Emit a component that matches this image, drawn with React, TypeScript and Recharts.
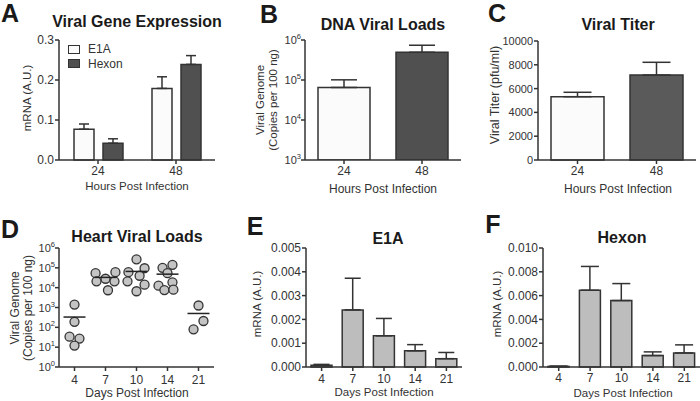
import React from 'react';
import { BarChart, Bar, XAxis, YAxis, ErrorBar, Cell, Legend, ScatterChart, Scatter } from 'recharts';

const FONT = '"Liberation Sans", Arial, Helvetica, sans-serif';
const AX = '#333333';
const WHITE_BAR = '#fbfbfb';
const DARK_BAR = '#505050';
const GREY_BAR = '#bdbdbd';

// ---------- Panel A: Viral Gene Expression ----------
const hoursCategories = ['24', '48'];
const e1aExpression = [0.077, 0.179];
const e1aExpressionSem = [0.013, 0.029];
const hexonExpression = [0.042, 0.239];
const hexonExpressionSem = [0.011, 0.022];
const aTicks = [0, 0.1, 0.2, 0.3];

// ---------- Panel B: DNA Viral Loads ----------
const dnaLoads = [65000, 493000];
const dnaLoadsSem = [36000, 247000];
const bTicks = [1000, 10000, 100000, 1000000];

// ---------- Panel C: Viral Titer ----------
const viralTiter = [5320, 7140];
const viralTiterSem = [370, 1070];
const cTicks = [0, 2000, 4000, 6000, 8000, 10000];

// ---------- Panel D: Heart Viral Loads ----------
const dayCategories = ['4', '7', '10', '14', '21'];
const heartLoads = [
  [1410, 190, 34, 27, 12],
  [53700, 60300, 28200, 20900, 20900, 7400],
  [269000, 95500, 60300, 39800, 20900, 14100, 6600],
  [100000, 141000, 53700, 18600, 12600, 7600, 7900],
  [1260, 209, 79],
];
const heartJitter = [
  [0, 0, -0.16, 0.16, 0],
  [-0.32, 0.32, 0, -0.29, 0.29, 0.08],
  [0, 0.26, -0.26, 0.1, -0.29, 0.26, 0],
  [-0.16, 0.16, 0, 0.16, -0.29, -0.1, 0.19],
  [0, 0.16, -0.16],
];
const heartMeans = [330, 33000, 66000, 48000, 500];
const dTicks = [1, 10, 100, 1000, 10000, 100000, 1000000];

// ---------- Panel E: E1A ----------
const e1aDays = [0.00007, 0.0024, 0.00131, 0.00068, 0.00035];
const e1aDaysSem = [0.00004, 0.00133, 0.00073, 0.00026, 0.00026];
const eTicks = [0, 0.001, 0.002, 0.003, 0.004, 0.005];

// ---------- Panel F: Hexon ----------
const hexonDays = [0.00005, 0.00645, 0.00558, 0.00096, 0.00118];
const hexonDaysSem = [0.00002, 0.002, 0.00143, 0.00031, 0.00068];
const fTicks = [0, 0.002, 0.004, 0.006, 0.008, 0.01];

// ---------- tables built from the arrays ----------
const dataA = hoursCategories.map((h, i) => ({
  hours: h,
  e1a: e1aExpression[i],
  e1aErr: [0, e1aExpressionSem[i]],
  hexon: hexonExpression[i],
  hexonErr: [0, hexonExpressionSem[i]],
}));
const dataB = hoursCategories.map((h, i) => ({ hours: h, v: dnaLoads[i], err: [0, dnaLoadsSem[i]] }));
const dataC = hoursCategories.map((h, i) => ({ hours: h, v: viralTiter[i], err: [0, viralTiterSem[i]] }));
const dataD = heartLoads.flatMap((vals, i) =>
  vals.map((v, j) => ({ x: i + 0.5 + heartJitter[i][j], y: v }))
);
const dataDMeans = heartMeans.map((m, i) => ({ x: i + 0.5, y: m }));
const dataE = dayCategories.map((d, i) => ({ day: d, v: e1aDays[i], err: [0, e1aDaysSem[i]] }));
const dataF = dayCategories.map((d, i) => ({ day: d, v: hexonDays[i], err: [0, hexonDaysSem[i]] }));

// layout helper: chart box + desired plot rectangle
function frame(left: number, top: number, w: number, h: number, x0: number, x1: number, y0: number, y1: number, xh = 26) {
  return {
    style: { position: 'absolute' as const, left, top },
    width: w,
    height: h,
    margin: { top: y0 - top, right: left + w - x1, bottom: top + h - y1 - xh, left: 0 },
    yWidth: x0 - left,
    xHeight: xh,
  };
}

const axisLine = { stroke: AX, strokeWidth: 1.5 };
const tickLine = { stroke: AX, strokeWidth: 1.5 };

function Txt({ x, y, size, bold, rotate, children }: any) {
  return (
    <div
      style={{
        position: 'absolute',
        left: x,
        top: y,
        transform: `translate(-50%, -50%)${rotate ? ` rotate(${rotate}deg)` : ''}`,
        fontSize: size,
        fontWeight: bold ? 700 : 400,
        lineHeight: 1,
        whiteSpace: 'nowrap',
        color: bold ? '#1a1a1a' : '#333',
        fontFamily: FONT,
        textAlign: 'center',
      }}
    >
      {children}
    </div>
  );
}

function PowTick(props: any) {
  const { x, y, payload } = props;
  const exp = Math.round(Math.log10(payload.value));
  return (
    <text x={x} y={y} dy={4} textAnchor="end" fill="#333" fontSize={11}>
      10
      <tspan fontSize={7.5} dy={-5}>
        {exp}
      </tspan>
    </text>
  );
}

function LegendA(props: any) {
  const payload = props.payload || [];
  return (
    <div style={{ fontFamily: FONT, fontSize: 12, color: '#333' }}>
      {payload.map((p: any) => (
        <div key={p.value} style={{ display: 'flex', alignItems: 'center', height: 14.5 }}>
          <div
            style={{
              width: 10,
              height: 7,
              border: `1.5px solid ${AX}`,
              background: p.color,
              marginRight: 8,
            }}
          />
          <span>{p.value}</span>
        </div>
      ))}
    </div>
  );
}

const Dot = (props: any) => {
  const { cx, cy } = props;
  return <circle cx={cx} cy={cy} r={4.5} fill="#c4c4c4" stroke={AX} strokeWidth={1.3} />;
};
const MeanLine = (props: any) => {
  const { cx, cy } = props;
  return <line x1={cx - 11} x2={cx + 11} y1={cy} y2={cy} stroke="#222" strokeWidth={1.5} />;
};

export default function App() {
  const fA = frame(0, 0, 230, 200, 59, 215, 40, 160);
  const fB = frame(230, 0, 240, 200, 305, 461, 40, 160);
  const fC = frame(470, 0, 230, 200, 538, 696, 41, 160);
  const fD = frame(0, 200, 240, 201, 59, 214, 248, 367);
  const fE = frame(240, 200, 230, 201, 306, 462, 248, 367);
  const fF = frame(470, 200, 230, 201, 543, 700, 248, 367);
  const tick12 = { fontSize: 12, fill: '#333' };

  return (
    <div
      style={{
        position: 'absolute',
        left: 0,
        top: 0,
        width: 700,
        height: 401,
        background: '#fff',
        fontFamily: FONT,
        overflow: 'hidden',
      }}
    >
      {/* A */}
      <div style={fA.style}>
        <BarChart width={fA.width} height={fA.height} data={dataA} margin={fA.margin} barSize={20} barGap={9}>
          <XAxis dataKey="hours" height={fA.xHeight} axisLine={axisLine} tickLine={tickLine} tickSize={4} tickMargin={2} tick={tick12} />
          <YAxis width={fA.yWidth} domain={[0, 0.3]} ticks={aTicks} interval={0} tickFormatter={(v: number) => v.toFixed(1)} axisLine={axisLine} tickLine={tickLine} tickSize={4} tickMargin={1} tick={tick12} />
          <Legend layout="vertical" align="center" verticalAlign="middle" content={<LegendA />} wrapperStyle={{ left: 68, top: 42, width: 'auto', height: 'auto' }} />
          <Bar dataKey="e1a" name="E1A" fill={WHITE_BAR} stroke={AX} strokeWidth={1.5} isAnimationActive={false}>
            <ErrorBar dataKey="e1aErr" width={5} stroke={AX} strokeWidth={1.5} direction="y" />
          </Bar>
          <Bar dataKey="hexon" name="Hexon" fill={DARK_BAR} stroke={AX} strokeWidth={1.5} isAnimationActive={false}>
            <ErrorBar dataKey="hexonErr" width={5} stroke={AX} strokeWidth={1.5} direction="y" />
          </Bar>
        </BarChart>
      </div>

      {/* B */}
      <div style={fB.style}>
        <BarChart width={fB.width} height={fB.height} data={dataB} margin={fB.margin} barSize={52}>
          <XAxis dataKey="hours" height={fB.xHeight} axisLine={axisLine} tickLine={tickLine} tickSize={4} tickMargin={2} tick={tick12} />
          <YAxis width={fB.yWidth} type="number" scale="log" domain={[1000, 1000000]} allowDataOverflow ticks={bTicks} interval={0} axisLine={axisLine} tickLine={tickLine} tickSize={4} tickMargin={0} tick={<PowTick />} />
          <Bar dataKey="v" stroke={AX} strokeWidth={1.5} isAnimationActive={false}>
            {dataB.map((d, i) => (
              <Cell key={d.hours} fill={i === 0 ? WHITE_BAR : DARK_BAR} />
            ))}
            <ErrorBar dataKey="err" width={13} stroke={AX} strokeWidth={1.5} direction="y" />
          </Bar>
        </BarChart>
      </div>

      {/* C */}
      <div style={fC.style}>
        <BarChart width={fC.width} height={fC.height} data={dataC} margin={fC.margin} barSize={53}>
          <XAxis dataKey="hours" height={fC.xHeight} axisLine={axisLine} tickLine={tickLine} tickSize={4} tickMargin={2} tick={tick12} />
          <YAxis width={fC.yWidth} domain={[0, 10000]} ticks={cTicks} interval={0} axisLine={axisLine} tickLine={tickLine} tickSize={4} tickMargin={1} tick={{ fontSize: 11, fill: '#333' }} />
          <Bar dataKey="v" stroke={AX} strokeWidth={1.5} isAnimationActive={false}>
            {dataC.map((d, i) => (
              <Cell key={d.hours} fill={i === 0 ? WHITE_BAR : '#5a5a5a'} />
            ))}
            <ErrorBar dataKey="err" width={14} stroke={AX} strokeWidth={1.5} direction="y" />
          </Bar>
        </BarChart>
      </div>

      {/* D */}
      <div style={fD.style}>
        <ScatterChart width={fD.width} height={fD.height} margin={fD.margin}>
          <XAxis
            type="number"
            dataKey="x"
            domain={[0, 5]}
            allowDataOverflow
            ticks={[0.5, 1.5, 2.5, 3.5, 4.5]}
            interval={0}
            tickFormatter={(v: number) => dayCategories[Math.floor(v)]}
            height={fD.xHeight}
            axisLine={axisLine}
            tickLine={tickLine}
            tickSize={4}
            tickMargin={4}
            tick={tick12}
          />
          <YAxis type="number" dataKey="y" width={fD.yWidth} scale="log" domain={[1, 1000000]} allowDataOverflow ticks={dTicks} interval={0} axisLine={axisLine} tickLine={tickLine} tickSize={4} tickMargin={0} tick={<PowTick />} />
          <Scatter data={dataD} shape={<Dot />} isAnimationActive={false} />
          <Scatter data={dataDMeans} shape={<MeanLine />} isAnimationActive={false} />
        </ScatterChart>
      </div>

      {/* E */}
      <div style={fE.style}>
        <BarChart width={fE.width} height={fE.height} data={dataE} margin={fE.margin} barSize={21}>
          <XAxis dataKey="day" height={fE.xHeight} axisLine={axisLine} tickLine={tickLine} tickSize={4} tickMargin={3} tick={tick12} interval={0} />
          <YAxis width={fE.yWidth} domain={[0, 0.005]} ticks={eTicks} interval={0} tickFormatter={(v: number) => v.toFixed(3)} axisLine={axisLine} tickLine={tickLine} tickSize={4} tickMargin={1} tick={tick12} />
          <Bar dataKey="v" fill={GREY_BAR} stroke={AX} strokeWidth={1.5} isAnimationActive={false}>
            <ErrorBar dataKey="err" width={8} stroke={AX} strokeWidth={1.5} direction="y" />
          </Bar>
        </BarChart>
      </div>

      {/* F */}
      <div style={fF.style}>
        <BarChart width={fF.width} height={fF.height} data={dataF} margin={fF.margin} barSize={21}>
          <XAxis dataKey="day" height={fF.xHeight} axisLine={axisLine} tickLine={tickLine} tickSize={4} tickMargin={2} tick={tick12} interval={0} />
          <YAxis width={fF.yWidth} domain={[0, 0.01]} ticks={fTicks} interval={0} tickFormatter={(v: number) => v.toFixed(3)} axisLine={axisLine} tickLine={tickLine} tickSize={4} tickMargin={1} tick={tick12} />
          <Bar dataKey="v" fill={GREY_BAR} stroke={AX} strokeWidth={1.5} isAnimationActive={false}>
            <ErrorBar dataKey="err" width={9} stroke={AX} strokeWidth={1.5} direction="y" />
          </Bar>
        </BarChart>
      </div>

      {/* panel letters */}
      <Txt x={10} y={13} size={25} bold>A</Txt>
      <Txt x={269} y={14} size={25} bold>B</Txt>
      <Txt x={497} y={13} size={25} bold>C</Txt>
      <Txt x={10} y={229} size={25} bold>D</Txt>
      <Txt x={255} y={226} size={25} bold>E</Txt>
      <Txt x={493} y={224} size={25} bold>F</Txt>

      {/* titles */}
      <Txt x={137} y={22} size={16} bold>Viral Gene Expression</Txt>
      <Txt x={383} y={25} size={16} bold>DNA Viral Loads</Txt>
      <Txt x={618} y={25} size={16} bold>Viral Titer</Txt>
      <Txt x={137} y={237} size={16} bold>Heart Viral Loads</Txt>
      <Txt x={388} y={239} size={16} bold>E1A</Txt>
      <Txt x={622} y={238} size={16} bold>Hexon</Txt>

      {/* x axis titles */}
      <Txt x={137} y={187} size={11.5}>Hours Post Infection</Txt>
      <Txt x={383} y={189} size={12}>Hours Post Infection</Txt>
      <Txt x={618} y={189} size={12}>Hours Post Infection</Txt>
      <Txt x={137} y={393} size={12}>Days Post Infection</Txt>
      <Txt x={384} y={393} size={11.5}>Days Post Infection</Txt>
      <Txt x={623} y={394} size={11.5}>Days Post Infection</Txt>

      {/* y axis titles */}
      <Txt x={28} y={98} size={11.5} rotate={-90}>mRNA (A.U.)</Txt>
      <Txt x={267} y={100} size={11.5} rotate={-90}>
        <div>Viral Genome</div>
        <div style={{ marginTop: 1 }}>(Copies per 100 ng)</div>
      </Txt>
      <Txt x={495} y={95} size={12.5} rotate={-90}>Viral Titer (pfu/ml)</Txt>
      <Txt x={21} y={308} size={12} rotate={-90}>
        <div>Viral Genome</div>
        <div style={{ marginTop: 1 }}>(Copies per 100 ng)</div>
      </Txt>
      <Txt x={258} y={304} size={11.5} rotate={-90}>mRNA (A.U.)</Txt>
      <Txt x={498} y={304} size={11.5} rotate={-90}>mRNA (A.U.)</Txt>
    </div>
  );
}
